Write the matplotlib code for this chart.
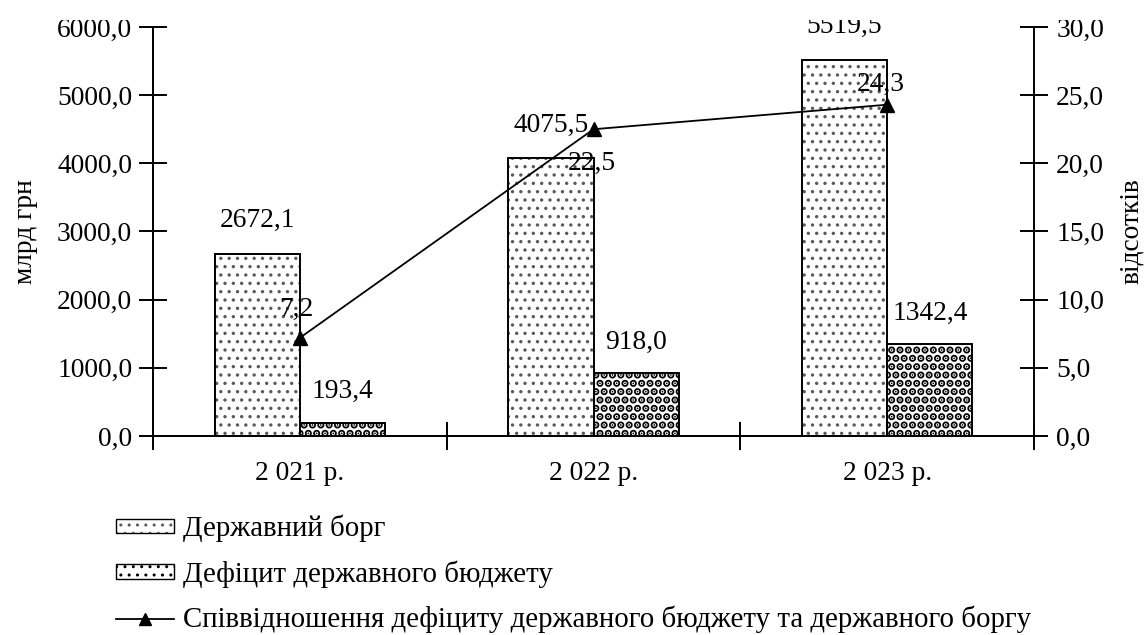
"""Державний борг, дефіцит бюджету та їх співвідношення, 2021-2023."""

import matplotlib

matplotlib.use("Agg")
import matplotlib.pyplot as plt
import matplotlib.ticker as mticker
import numpy as np
from matplotlib.lines import Line2D
from matplotlib.patches import Patch, Rectangle

YEARS = ["2 021 р.", "2 022 р.", "2 023 р."]
DEBT = [2672.1, 4075.5, 5519.5]
DEFICIT = [193.4, 918.0, 1342.4]
RATIO = [7.2, 22.5, 24.3]

LEFT_TICKS = [0, 1000, 2000, 3000, 4000, 5000, 6000]
RIGHT_TICKS = [0, 5, 10, 15, 20, 25, 30]

LABELS = [
    "Державний борг",
    "Дефіцит державного бюджету",
    "Співвідношення дефіциту державного бюджету та державного боргу",
]

# pixel offsets for the ratio labels (relative to each marker)
RATIO_OFFSETS = [(-3, 28), (-2, -34), (-6, 20)]

FONT = 19.8
LEGEND_FONT = 20.8
BAR_W = 0.29
GREY_DOTS = (0.35, 0.35, 0.35, 1.0)


def comma(value: float) -> str:
    return f"{value:.1f}".replace(".", ",")


def style_hatch(patch, color, lw: float) -> None:
    patch._hatch_color = color
    if hasattr(patch, "set_hatch_linewidth"):
        patch.set_hatch_linewidth(lw)


def main() -> None:
    plt.rcParams["font.family"] = ["Liberation Serif", "DejaVu Serif"]
    plt.rcParams["font.size"] = FONT

    fig = plt.figure(figsize=(11.48, 6.35), dpi=100)
    ax = fig.add_axes([0.1333, 0.3134, 0.7674, 0.6441])
    ax2 = ax.twinx()

    x = np.arange(len(YEARS))

    debt_bars = ax.bar(x - BAR_W / 2, DEBT, BAR_W, facecolor="white", edgecolor="black",
                       linewidth=1.4, hatch="..", zorder=2)
    for bar in debt_bars:
        style_hatch(bar, GREY_DOTS, 1.2)
    def_bars = ax.bar(x + BAR_W / 2, DEFICIT, BAR_W, facecolor="white", edgecolor="black",
                      linewidth=1.4, hatch="..", zorder=2)
    for bar in def_bars:
        style_hatch(bar, (0, 0, 0, 1.0), 3.8)

    for xi, val in zip(x - BAR_W / 2, DEBT):
        ax.annotate(comma(val), (xi, val), xytext=(0, 33), textcoords="offset pixels",
                    ha="center", va="center", fontsize=FONT)
    for xi, val in zip(x + BAR_W / 2, DEFICIT):
        ax.annotate(comma(val), (xi, val), xytext=(0, 31), textcoords="offset pixels",
                    ha="center", va="center", fontsize=FONT)

    ax2.plot(x, RATIO, color="black", linewidth=1.3, marker="^", markersize=10, zorder=3)
    for xi, val, off in zip(x, RATIO, RATIO_OFFSETS):
        ax2.annotate(comma(val), (xi, val), xytext=off, textcoords="offset pixels",
                     ha="center", va="center", fontsize=FONT)

    ax.set_xlim(-0.5, 2.5)
    ax.set_ylim(0, 6000)
    ax2.set_ylim(0, 30)

    ax.set_yticks(LEFT_TICKS)
    ax2.set_yticks(RIGHT_TICKS)
    ax.yaxis.set_major_formatter(mticker.FuncFormatter(lambda v, _: comma(v)))
    ax2.yaxis.set_major_formatter(mticker.FuncFormatter(lambda v, _: comma(v)))

    ax.set_xticks([-0.5, 0.5, 1.5, 2.5])
    ax.set_xticklabels([])
    ax.set_xticks(x, minor=True)
    ax.set_xticklabels(YEARS, minor=True)
    ax.tick_params(axis="x", which="major", direction="inout", length=20, width=1.4)
    ax.tick_params(axis="x", which="minor", length=0, pad=18, labelsize=FONT)
    ax.tick_params(axis="y", direction="inout", length=20, width=1.4, pad=5, labelsize=FONT)
    ax2.tick_params(axis="y", direction="inout", length=20, width=1.4, pad=6, labelsize=FONT)

    for a in (ax, ax2):
        a.spines["top"].set_visible(False)
        for side in ("left", "right", "bottom"):
            a.spines[side].set_linewidth(1.4)
    ax.spines["right"].set_visible(False)

    ax.set_ylabel("млрд грн", fontsize=FONT, labelpad=14)
    ax2.set_ylabel("відсотків", fontsize=FONT, labelpad=11)

    handles = [
        Patch(facecolor="white", edgecolor="black", hatch="..", linewidth=1.0),
        Patch(facecolor="white", edgecolor="black", hatch="..", linewidth=1.0),
        Line2D([], [], color="black", linewidth=1.3, marker="^", markersize=9),
    ]
    style_hatch(handles[0], GREY_DOTS, 1.2)
    style_hatch(handles[1], (0, 0, 0, 1.0), 3.8)
    fig.legend(handles, LABELS, loc="upper left", bbox_to_anchor=(116 / 1148, 1 - 515 / 635),
               frameon=False, fontsize=LEGEND_FONT, handlelength=2.0, handleheight=0.38,
               handletextpad=0.32, labelspacing=0.62, borderpad=0, borderaxespad=0)

    # the top strip of the canvas is blank
    fig.add_artist(Rectangle((0, 1 - 20 / 635), 1, 20 / 635, transform=fig.transFigure,
                             facecolor="white", edgecolor="none", zorder=10))

    fig.savefig("out.png", dpi=100)
    plt.close(fig)


if __name__ == "__main__":
    main()
